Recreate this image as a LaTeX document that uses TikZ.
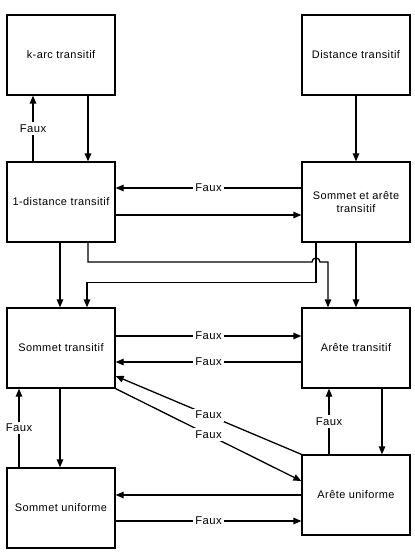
\documentclass[tikz,border=0pt]{standalone}
\usepackage{fontspec}
\setmainfont{Liberation Sans}[LetterSpace=4]
\usetikzlibrary{arrows.meta,calc}
\begin{document}
\begin{tikzpicture}[x=1bp,y=-1bp,
  box/.style={draw,line width=1.3bp,minimum width=108bp,minimum height=80bp,inner sep=2bp,align=center,font=\fontsize{11}{13.5}\selectfont},
  arr/.style={line width=1.3bp,-{Triangle[length=8bp,width=6.5bp]}},
  lbl/.style={fill=white,inner sep=2.5bp,font=\fontsize{11.3}{13.5}\selectfont}]
\useasboundingbox (0,0) rectangle (414,559);
\fill[white] (0,0) rectangle (414,559);
\node[box] (karc) at (61,55) {k-arc transitif};
\node[box] (dist) at (356,55) {Distance transitif};
\node[box] (one) at (61,202) {1-distance transitif};
\node[box] (sa) at (356,202) {Sommet et arête\\transitif};
\node[box] (st) at (61,348) {Sommet transitif};
\node[box] (at) at (356,348) {Arête transitif};
\node[box] (su) at (61,508) {Sommet uniforme};
\node[box] (au) at (356,495) {Arête uniforme};
% top left pair
\draw[arr] ([xshift=-28bp]one.north) -- node[lbl]{Faux} ([xshift=-28bp]karc.south);
\draw[arr] ([xshift=27bp]karc.south) -- ([xshift=27bp]one.north);
% distance -> sa
\draw[arr] (dist.south) -- (sa.north);
% sa <-> one
\draw[arr] ([yshift=14bp]sa.west) -- node[lbl]{Faux} ([yshift=14bp]one.east);
\draw[arr] ([yshift=-13bp]one.east) -- ([yshift=-13bp]sa.west);
% one -> st
\draw[arr] ([xshift=-1bp]one.south) -- ([xshift=-1bp]st.north);
% one -> at with hop
\coordinate (hopL) at (312,262);
\draw[arr] ([xshift=27bp]one.south) |- (hopL) arc[start angle=180,end angle=360,radius=4] -| ([xshift=-28bp]at.north);
% sa -> st
\draw[arr] ([xshift=-40bp]sa.south) -- ++(0,40) -| ([xshift=26bp]st.north);
% sa -> at
\draw[arr] (sa.south) -- (at.north);
% st <-> at
\draw[arr] ([yshift=12bp]st.east) -- node[lbl]{Faux} ([yshift=12bp]at.west);
\draw[arr] ([yshift=-14bp]at.west) -- node[lbl]{Faux} ([yshift=-14bp]st.east);
% diagonals
\draw[arr] (au.north west) -- node[lbl]{Faux} ([yshift=-28bp]st.east);
\draw[arr] (st.south east) -- node[lbl]{Faux} ([yshift=14bp]au.west);
% st <-> su
\draw[arr] ([xshift=-1bp]st.south) -- ([xshift=-1bp]su.north);
\draw[arr] ([xshift=-42bp]su.north) -- node[lbl]{Faux} ([xshift=-42bp]st.south);
% at <-> au
\draw[arr] ([xshift=-27bp]au.north) -- node[lbl]{Faux} ([xshift=-27bp]at.south);
\draw[arr] ([xshift=26bp]at.south) -- ([xshift=26bp]au.north);
% au <-> su
\draw[arr] (au.west) -- (au.west -| su.east);
\draw[arr] ([yshift=-13bp]su.east) -- node[lbl]{Faux} ([yshift=-13bp]su.east -| au.west);
\end{tikzpicture}
\end{document}
